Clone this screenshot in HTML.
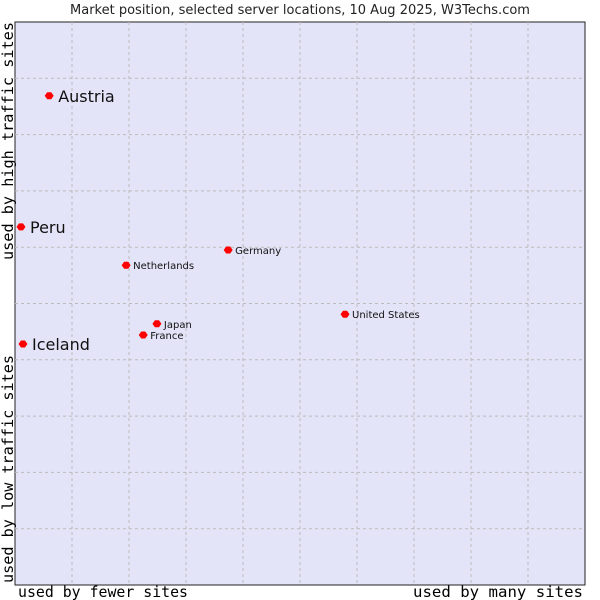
<!DOCTYPE html>
<html><head><meta charset="utf-8"><style>
body{margin:0;background:#fff;}
svg{display:block;font-family:"DejaVu Sans","Liberation Sans",sans-serif;}
.ax{font-family:"DejaVu Sans Mono","Liberation Mono",monospace;font-size:15px;fill:#000;}
</style></head><body>
<svg id="chart" width="600" height="600">
<text x="300" y="14" text-anchor="middle" font-size="13" fill="#222">Market position, selected server locations, 10 Aug 2025, W3Techs.com</text>
<rect x="15" y="22" width="570" height="563" fill="#e4e4f8" stroke="#222" stroke-width="1"/>
<g id="grid"></g>
<g id="points"></g>
<text class="ax" x="18" y="597" textLength="170" lengthAdjust="spacingAndGlyphs">used by fewer sites</text>
<text class="ax" x="413" y="597" textLength="170" lengthAdjust="spacingAndGlyphs">used by many sites</text>
<text class="ax" transform="translate(13,583) rotate(-90)" textLength="228" lengthAdjust="spacingAndGlyphs">used by low traffic sites</text>
<text class="ax" transform="translate(13,260) rotate(-90)" textLength="238" lengthAdjust="spacingAndGlyphs">used by high traffic sites</text>
</svg>
<script>
const names = ["Austria","Peru","Iceland","Netherlands","Germany","Japan","France","United States"];
const xValues = [6.0,1.05,1.4,19.5,37.4,24.9,22.5,57.9];
const yValues = [86.9,63.6,42.8,56.8,59.5,46.4,44.4,48.1];
const bigLabel = [true,true,true,false,false,false,false,false];
const gridTicks = [10,20,30,40,50,60,70,80,90];
const L=15,R=585,T=22,B=585;
const sx=v=>L+(R-L)*v/100, sy=v=>B-(B-T)*v/100;
const ns="http://www.w3.org/2000/svg";
const grid=document.getElementById('grid'), pts=document.getElementById('points');
gridTicks.forEach(t=>{
  const v=document.createElementNS(ns,'line');
  v.setAttribute('x1',sx(t));v.setAttribute('x2',sx(t));v.setAttribute('y1',T);v.setAttribute('y2',B);
  v.setAttribute('stroke','#bbbbbb');v.setAttribute('stroke-dasharray','3,3');
  
  
  grid.appendChild(v);
  const h=document.createElementNS(ns,'line');
  h.setAttribute('y1',sy(t));h.setAttribute('y2',sy(t));h.setAttribute('x1',L);h.setAttribute('x2',R);
  h.setAttribute('stroke','#bbbbbb');h.setAttribute('stroke-dasharray','3,3');
  
  
  grid.appendChild(h);
});
names.forEach((n,i)=>{
  const x=sx(xValues[i]), y=sy(yValues[i]);
  const c=document.createElementNS(ns,'path');
  c.setAttribute('d',`M${x-4.5},${y} L${x-2},${y-3.5} L${x+2},${y-3.5} L${x+4.5},${y} L${x+2},${y+3.5} L${x-2},${y+3.5} Z`);
  c.setAttribute('fill','#f00');
  
  
  pts.appendChild(c);
  const t=document.createElementNS(ns,'text');
  t.setAttribute('x',x+(bigLabel[i]?9:7));
  t.setAttribute('y',y+(bigLabel[i]?6:4));
  t.setAttribute('font-size',bigLabel[i]?16:10);
  t.setAttribute('fill','#111');
  t.textContent=n;
  
  
  pts.appendChild(t);
});
</script>
</body></html>
